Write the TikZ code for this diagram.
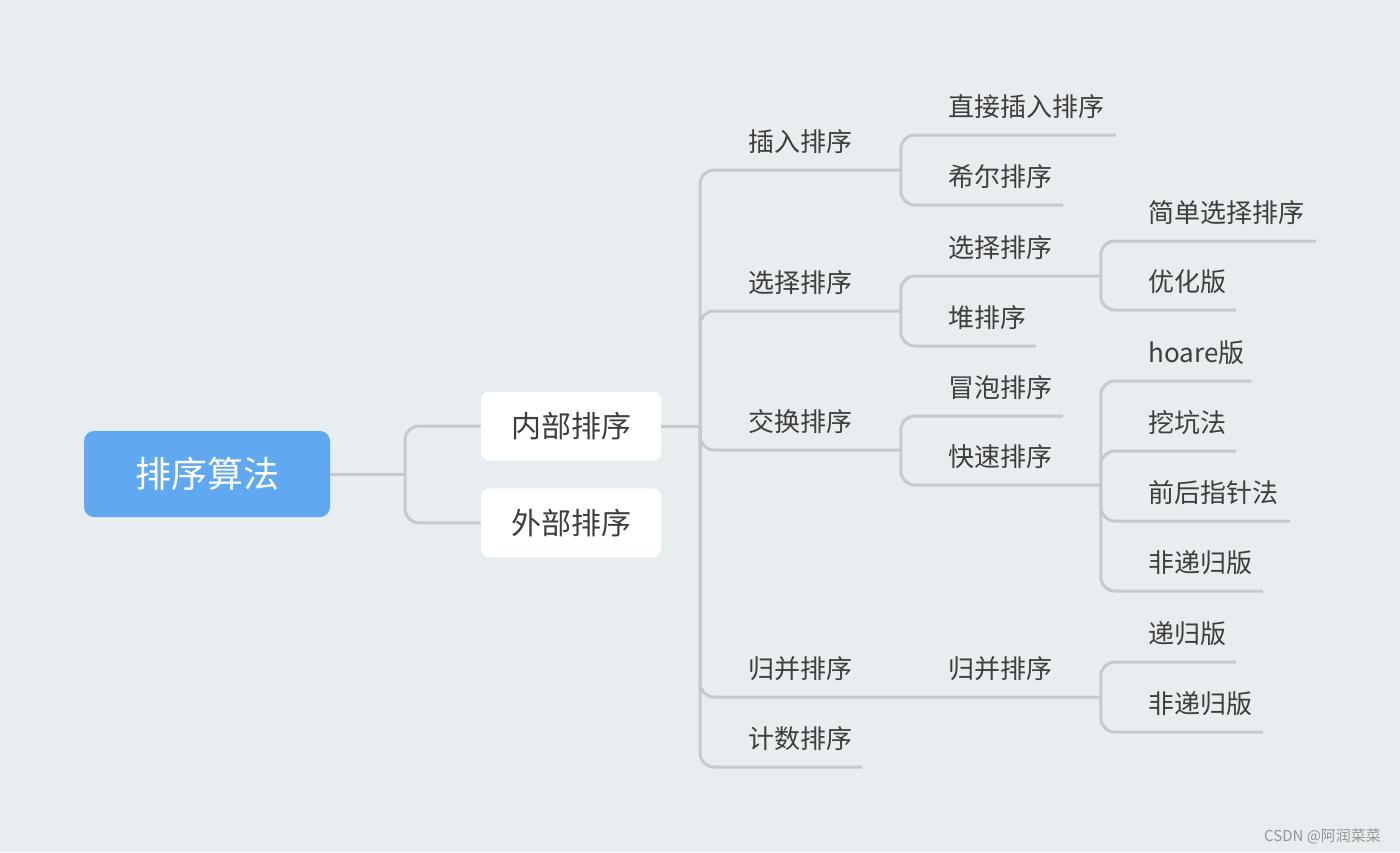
\documentclass[tikz,border=0pt]{standalone}
\usepackage{fontspec}
\setmainfont{Noto Sans CJK SC}
\usetikzlibrary{positioning}
\definecolor{bgcol}{RGB}{232,237,240}
\definecolor{linecol}{RGB}{198,202,206}
\definecolor{rootblue}{RGB}{96,168,240}
\definecolor{textcol}{RGB}{62,62,62}
\definecolor{markcol}{RGB}{150,150,150}

\begin{document}
\begin{tikzpicture}[
  x=0.5pt, y=-0.5pt,
  node distance=13.5pt,
  link/.style={draw=linecol, line width=1.5pt, rounded corners=7pt},
  rootnode/.style={rectangle, rounded corners=5pt, fill=rootblue, text=white,
    font=\fontsize{18}{20}\selectfont, minimum width=123pt, minimum height=43pt},
  mainnode/.style={rectangle, rounded corners=4pt, fill=white, text=textcol,
    font=\fontsize{15}{17}\selectfont, minimum width=90pt, minimum height=34.5pt},
  topic/.style={anchor=south west, inner sep=0pt, text width=#1, align=left,
    text height=10pt, text depth=9pt, text=textcol,
    font=\fontsize{13}{15}\selectfont, execute at begin node={\hspace*{24pt}}}
]
  \useasboundingbox (0,0) rectangle (1400,852);
  \fill[bgcol] (0,0) rectangle (1400,852);

  % root and first level
  \node[rootnode] (root) at (207,474) {排序算法};
  \node[mainnode] (neibu) at (571,426) {内部排序};
  \node[mainnode] (waibu) [below=of neibu] {外部排序};
  \coordinate (rj) at (405,474);
  \coordinate (nj) at (700,426);

  % second level
  \node[topic=100pt] (charu) at (700,170) {插入排序};
  \node[topic=100pt] (xuanze) at (700,311) {选择排序};
  \node[topic=100pt] (jiaohuan) at (700,450) {交换排序};
  \node[topic=100pt] (guibing) at (700,697) {归并排序};
  \node[topic=80.5pt] (jishu) at (700,767) {计数排序};

  % third level
  \node[topic=107.5pt] (zhijie) at (900,135) {直接插入排序};
  \node[topic=81pt] (xier) at (900,205) {希尔排序};
  \node[topic=100pt] (xuanze3) at (900,276) {选择排序};
  \node[topic=67.5pt] (dui) at (900,346) {堆排序};
  \node[topic=81pt] (maopao) at (900,416) {冒泡排序};
  \node[topic=100pt] (kuaisu) at (900,485) {快速排序};
  \node[topic=100pt] (guibing3) at (900,697) {归并排序};

  % fourth level
  \node[topic=107.5pt] (jiandan) at (1100,241) {简单选择排序};
  \node[topic=67.5pt] (youhua) at (1100,310) {优化版};
  \node[topic=75pt] (hoare) at (1100,381) {hoare版};
  \node[topic=67.5pt] (wakeng) at (1100,451) {挖坑法};
  \node[topic=94.5pt] (qianhou) at (1100,521) {前后指针法};
  \node[topic=81pt] (feidigui) at (1100,591) {非递归版};
  \node[topic=67.5pt] (digui) at (1100,662) {递归版};
  \node[topic=81pt] (feidigui2) at (1100,732) {非递归版};

  % connectors
  \draw[link] (root.east) -- (rj);
  \foreach \c in {neibu,waibu}
    \draw[link] (rj) |- (\c.west);
  \draw[link] (neibu.east) -- (nj);
  \foreach \c in {charu,xuanze,jiaohuan,jishu}
    \draw[link] (nj) |- (\c.south east);
  \draw[link] (nj) |- (guibing.south east) -- (guibing3.south east);
  \foreach \c in {zhijie,xier}
    \draw[link] (charu.south east) |- (\c.south east);
  \foreach \c in {xuanze3,dui}
    \draw[link] (xuanze.south east) |- (\c.south east);
  \foreach \c in {jiandan,youhua}
    \draw[link] (xuanze3.south east) |- (\c.south east);
  \foreach \c in {maopao,kuaisu}
    \draw[link] (jiaohuan.south east) |- (\c.south east);
  \foreach \c in {hoare,wakeng,qianhou,feidigui}
    \draw[link] (kuaisu.south east) |- (\c.south east);
  \foreach \c in {digui,feidigui2}
    \draw[link] (guibing3.south east) |- (\c.south east);

  \node[text=markcol, font=\fontsize{7.5}{8}\selectfont, anchor=east] (mark) at (1388,836) {CSDN @阿润菜菜};
\end{tikzpicture}
\end{document}
